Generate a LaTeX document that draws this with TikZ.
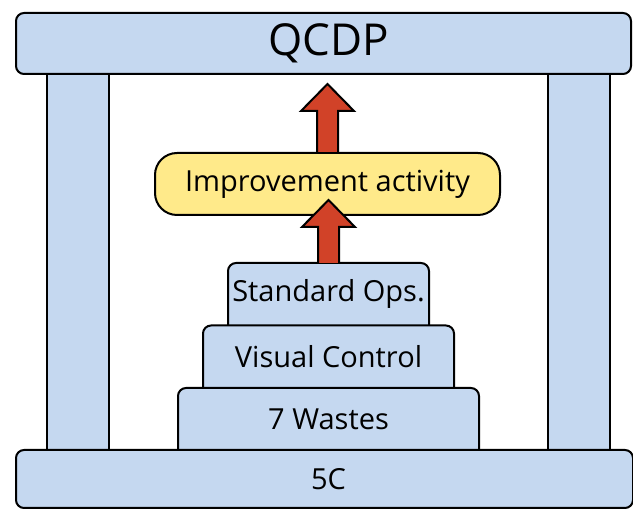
\documentclass[tikz,border=0pt]{standalone}
\usepackage{fontspec}
\setmainfont{Open Sans}
\usetikzlibrary{positioning,backgrounds}

\definecolor{boxblue}{RGB}{197,216,240}
\definecolor{boxyellow}{RGB}{255,234,138}
\definecolor{arrowred}{RGB}{209,66,40}

\tikzset{
  outline/.style={draw=black, line width=2pt},
  bar/.style={outline, fill=boxblue, rounded corners=8pt, inner sep=0pt, outer sep=0pt},
  pillar/.style={outline, fill=boxblue, minimum width=62pt, minimum height=376pt, inner sep=0pt, outer sep=0pt},
  tier/.style={inner sep=0pt, outer sep=0pt, minimum height=62pt, font=\fontsize{29}{33}\selectfont},
  tierfill/.style={outline, fill=boxblue, rounded corners=8pt},
  pics/fatarrow/.style={code={
    \filldraw[outline, fill=arrowred, line join=miter]
      (-10.5,0) -- (-10.5,{27-#1}) -- (-26.5,{27-#1}) -- (0,-#1)
      -- (26.5,{27-#1}) -- (10.5,{27-#1}) -- (10.5,0);
  }}
}

\begin{document}
\begin{tikzpicture}[x=1pt, y=-1pt]
  \useasboundingbox (0,0) rectangle (633,510);

  % pillars
  \begin{scope}[on background layer]
    \node[pillar] (leftpillar)  at (78,262)  {};
    \node[pillar] (rightpillar) at (579,262) {};
  \end{scope}

  % roof and floor
  \node[bar, minimum width=615pt, minimum height=61pt, font=\fontsize{44}{48}\selectfont]
        (qcdp) at (323.5,43.5) {\hspace*{10pt}QCDP};
  \node[bar, minimum width=617pt, minimum height=58pt, font=\fontsize{29}{33}\selectfont]
        (fivec) at (324.5,479) {\hspace*{8pt}5C};

  % tiers of the stack
  \node[tier, minimum width=201pt] (standard) at (328.5,294)   {Standard Ops.};
  \node[tier, minimum width=251pt] (visual)   at (328.5,356.5) {Visual Control};
  \node[tier, minimum width=301pt] (wastes)   at (328.5,419)   {7 Wastes};
  \begin{scope}[on background layer]
    \foreach \t in {standard,visual,wastes}
      \filldraw[tierfill] (\t.south west) |- (\t.north) -| (\t.south east);
  \end{scope}

  % improvement box and arrows
  \node[outline, fill=boxyellow, rounded corners=22pt, minimum width=345pt, minimum height=62pt,
        inner sep=0pt, font=\fontsize{29}{33}\selectfont]
        (improve) at (327.5,184) {Improvement activity};
  \pic at (standard.north) {fatarrow=63};
  \pic at (improve.north)  {fatarrow=68};
\end{tikzpicture}
\end{document}
